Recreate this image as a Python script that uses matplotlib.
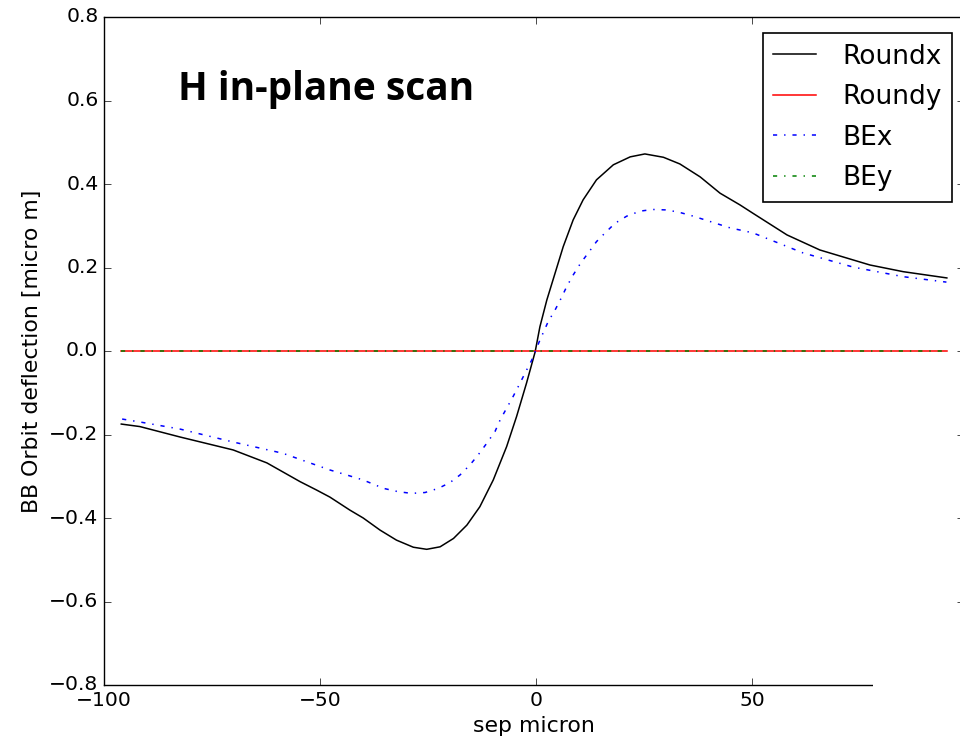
import matplotlib
matplotlib.use("Agg")
import matplotlib.pyplot as plt
from matplotlib.patches import Rectangle

# Data
roundx_x = [-96.0, -91.7, -82.4, -70.1, -62.3, -54.6, -50.8, -47.7, -43.1, -40.0, -36.1, -32.3, -28.4, -25.3,
            -22.2, -19.1, -16.0, -13.0, -9.9, -6.8, -4.5, -2.2, -0.2,
            0.9, 2.5, 4.4, 6.3, 8.6, 10.9, 14.0, 17.9, 21.8, 25.2, 29.5, 33.3, 38.0, 42.6, 47.2, 50.2, 58.1,
            65.7, 77.3, 85.0, 95.1]
roundx_y = [-0.175, -0.181, -0.206, -0.237, -0.268, -0.313, -0.333, -0.350, -0.381, -0.400, -0.429, -0.453, -0.470,
            -0.475, -0.469, -0.449, -0.417, -0.373, -0.309, -0.229, -0.157, -0.077, -0.002,
            0.058, 0.122, 0.186, 0.250, 0.314, 0.362, 0.410, 0.446, 0.465, 0.472, 0.464, 0.448, 0.417, 0.378,
            0.350, 0.330, 0.278, 0.242, 0.206, 0.190, 0.175]

bex_x = [-95.8, -91.7, -82.4, -70.1, -58.6, -47.7, -43.8, -40.0, -35.3, -31.9, -28.8, -25.7, -22.6, -19.9, -17.6,
         -15.3, -13.4, -11.4, -9.5, -8.3, -6.8, -5.3, -3.7, -2.4, -1.0,
         0.9, 2.8, 4.4, 5.7, 7.1, 8.6, 10.3, 12.1, 14.0, 16.0, 18.3, 21.0, 24.1, 27.0, 29.9, 32.9, 36.4, 44.9,
         50.2, 61.8, 73.4, 85.0, 95.0]
bex_y = [-0.163, -0.170, -0.187, -0.218, -0.245, -0.285, -0.297, -0.309, -0.329, -0.337, -0.341, -0.339, -0.329,
         -0.315, -0.297, -0.273, -0.249, -0.221, -0.193, -0.165, -0.137, -0.109, -0.077, -0.050, -0.022,
         0.026, 0.070, 0.098, 0.124, 0.154, 0.182, 0.210, 0.235, 0.262, 0.283, 0.306, 0.323, 0.335, 0.339, 0.338,
         0.333, 0.323, 0.295, 0.283, 0.235, 0.201, 0.178, 0.165]

flat_x = [-96.0, 95.1]
roundy_y = [0.0, 0.0]
bey_y = [0.0, 0.0]

xticks = [-100, -50, 0, 50]
yticks = [-0.8, -0.6, -0.4, -0.2, 0.0, 0.2, 0.4, 0.6, 0.8]

plt.style.use("classic")
fig = plt.figure(figsize=(9.6, 7.43), dpi=100, facecolor="white")
W, H = 960.0, 743.0
left, right, top, bottom = 104 / W, 963.7 / W, 1 - 17 / H, 1 - 685 / H
ax = fig.add_axes([left, bottom, right - left, top - bottom])

ax.plot(roundx_x, roundx_y, color="k", lw=1.1, label="Roundx")
ax.plot(flat_x, roundy_y, color="r", lw=1.1, label="Roundy")
ax.plot(bex_x, bex_y, color="b", lw=1.1, ls="-.", label="BEx")
ax.plot(flat_x, bey_y, color="g", lw=1.1, ls="-.", label="BEy")

ax.set_xlim(-100, 99)
ax.set_ylim(-0.8, 0.8)
ax.set_xticks(xticks)
ax.set_yticks(yticks)
ax.set_xticklabels(["\u2212100", "\u221250", "0", "50"])
ax.set_yticklabels([("\u2212" if v < 0 else "") + f"{abs(v):.1f}" for v in yticks])
ax.tick_params(labelsize=14.6, direction="in", length=5, top=True, right=True)
ax.set_xlabel("sep micron", fontsize=15.8, labelpad=5)
ax.set_ylabel("BB Orbit deflection [micro m]", fontsize=15.8, labelpad=5)

leg = ax.legend(loc="upper right", bbox_to_anchor=(952 / W, 1 - 33 / H), bbox_transform=fig.transFigure,
                borderaxespad=0, fontsize=19, handlelength=1.6, frameon=True, fancybox=False,
                numpoints=1, labelspacing=0.55, handletextpad=1.0, borderpad=0.4)
leg.get_frame().set_edgecolor("black")
leg.get_frame().set_linewidth(1.2)
for t in leg.get_texts():
    t.set_ha("left")

fig.text(178 / W, 1 - 100 / H, "H in-plane scan", fontsize=28, fontweight="bold",
         family=["Open Sans", "DejaVu Sans"], va="baseline", ha="left")

# white patch covering the end of the bottom spine as in the reference
fig.add_artist(Rectangle((873 / W, 0), (W - 873) / W, 1 - 680 / H, transform=fig.transFigure,
                         facecolor="white", edgecolor="none", zorder=5))

fig.savefig("out.png", dpi=100, facecolor="white")
